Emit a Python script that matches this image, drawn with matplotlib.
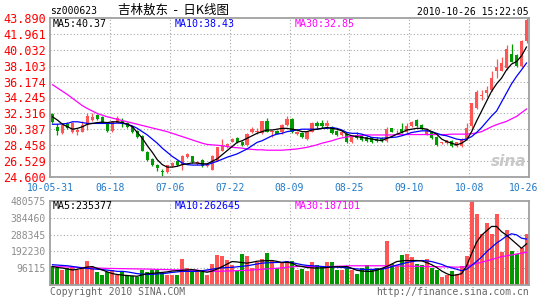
"""Daily candlestick chart (Sina style) for sz000623 with volume panel."""

import matplotlib
matplotlib.use("Agg")
import matplotlib.pyplot as plt
import numpy as np

plt.rcParams["font.family"] = ["DejaVu Sans Mono"]

W, H = 545, 300

RED = "#FF5555"
GREEN = "#009900"
GRID = "#A8A8A8"
FRAME = "#A0A0A0"
BLUE = "#0000FF"
MAGENTA = "#FF00FF"
DATE_BLUE = "#1E78C8"

# ---- data (96 trading days, 2010-05-31 .. 2010-10-26) ----
OPEN = [32.2, 30.7, 29.9, 31.0, 30.1, 30.0, 30.1, 30.9, 31.5, 32.15,
        31.9, 31.2, 30.2, 31.2, 31.35, 31.2, 30.75, 30.2, 29.6, 27.6,
        26.8, 26.1, 25.35, 25.2, 25.9, 26.6, 26.0, 27.0, 27.1, 26.2,
        26.7, 25.9, 25.5, 26.55, 27.8, 28.25, 28.9, 29.3, 28.9, 28.5,
        30.0, 30.0, 29.9, 31.35, 30.1, 30.2, 30.0, 30.9, 31.6, 29.8,
        29.9, 29.2, 30.1, 31.1, 31.2, 30.8, 30.7, 30.2, 29.7, 29.8,
        28.8, 29.7, 29.6, 29.45, 29.4, 29.2, 29.3, 28.95, 30.5, 30.05,
        30.4, 30.0, 30.8, 31.5, 30.9, 29.8, 30.0, 29.5, 28.75, 28.7,
        29.0, 28.4, 28.4, 29.2, 30.8, 33.0, 34.4, 34.8, 35.2, 37.4,
        37.5, 37.8, 39.5, 39.4, 38.1, 41.1]
HIGH = [32.4, 31.0, 31.0, 31.3, 31.3, 30.5, 31.4, 32.35, 32.4, 32.3,
        32.0, 31.3, 31.4, 32.0, 31.8, 31.3, 30.8, 30.3, 29.7, 27.7,
        26.9, 26.2, 25.6, 26.1, 26.4, 26.7, 27.3, 27.5, 27.2, 26.6,
        26.8, 26.3, 27.3, 28.3, 29.2, 28.7, 29.3, 29.4, 29.0, 29.9,
        30.7, 30.6, 31.4, 31.75, 30.3, 30.3, 31.0, 32.0, 31.8, 30.2,
        30.0, 30.1, 31.3, 31.4, 31.5, 31.5, 30.8, 30.3, 30.2, 29.9,
        29.6, 30.0, 29.8, 29.6, 29.5, 29.4, 29.5, 30.7, 30.6, 30.3,
        31.2, 31.2, 31.4, 31.6, 31.0, 30.5, 30.1, 29.6, 28.9, 29.1,
        29.1, 28.9, 29.3, 31.1, 33.6, 35.2, 35.1, 35.6, 37.4, 38.9,
        39.2, 40.6, 40.7, 39.5, 41.2, 43.89]
LOW = [31.2, 29.7, 29.8, 30.4, 29.9, 29.7, 30.0, 30.3, 31.4, 31.5,
       31.1, 30.0, 30.0, 31.1, 30.7, 30.6, 29.9, 29.3, 27.7, 26.5,
       25.9, 25.3, 24.6, 25.1, 25.8, 25.9, 25.4, 26.9, 26.3, 26.1,
       25.8, 25.8, 25.4, 26.5, 27.7, 28.1, 28.8, 28.7, 28.4, 28.4,
       29.9, 29.8, 29.8, 30.0, 29.4, 29.8, 29.8, 30.8, 29.9, 29.7,
       29.3, 29.1, 30.0, 30.6, 30.5, 30.7, 29.8, 29.6, 29.6, 28.7,
       28.7, 29.2, 29.0, 28.9, 28.7, 28.9, 28.9, 28.9, 30.0, 29.9,
       29.9, 29.9, 30.7, 30.7, 30.3, 29.7, 29.2, 28.4, 28.6, 28.6,
       28.3, 28.3, 28.3, 29.1, 30.6, 32.9, 33.9, 34.3, 35.0, 36.6,
       37.4, 37.6, 38.5, 38.0, 38.0, 40.8]
CLOSE = [31.3, 30.2, 30.9, 30.5, 31.1, 30.35, 30.85, 32.0, 31.9, 31.6,
         31.2, 30.2, 31.3, 31.7, 31.0, 30.7, 30.0, 29.4, 27.8, 26.7,
         26.0, 25.7, 25.25, 26.0, 26.3, 26.0, 27.1, 27.4, 26.4, 26.4,
         25.9, 26.1, 27.15, 28.2, 28.4, 28.6, 29.2, 28.8, 28.5, 29.8,
         30.4, 30.2, 31.35, 30.1, 30.2, 29.85, 30.9, 31.6, 30.0, 30.1,
         29.4, 30.0, 31.1, 30.8, 30.8, 31.2, 29.9, 29.7, 30.1, 28.8,
         29.5, 29.3, 29.1, 28.95, 28.8, 29.0, 29.0, 30.4, 30.1, 30.1,
         30.0, 30.8, 31.3, 30.8, 30.4, 30.4, 29.3, 28.45, 28.8, 29.05,
         28.4, 28.8, 29.2, 30.6, 33.6, 34.9, 34.6, 35.2, 36.6, 38.0,
         38.4, 40.15, 38.6, 38.1, 41.1, 43.6]

MA5 = [31.9, 31.5, 31.0, 30.7, 30.4, 30.5, 30.7, 31.0, 31.1, 31.2,
       31.25, 31.2, 31.3, 31.3, 31.2, 31.0, 30.7, 30.0, 29.3, 28.4,
       27.6, 26.7, 26.1, 25.8, 25.8, 25.9, 26.1, 26.2, 26.3, 26.3,
       26.2, 26.2, 26.5, 26.8, 27.3, 27.8, 28.3, 28.8, 29.0, 29.3,
       29.6, 29.9, 30.1, 30.3, 30.3, 30.4, 30.5, 30.5, 30.4, 30.3,
       30.1, 30.1, 30.3, 30.4, 30.5, 30.6, 30.5, 30.4, 30.2, 29.8,
       29.6, 29.5, 29.4, 29.3, 29.2, 29.1, 29.0, 29.3, 29.5, 29.8,
       30.0, 30.3, 30.4, 30.5, 30.5, 30.4, 30.1, 29.8, 29.2, 28.9,
       28.7, 28.5, 28.7, 29.1, 30.1, 31.4, 32.6, 33.8, 35.0, 35.9,
       36.6, 37.6, 38.3, 38.6, 39.3, 40.37]
MA10 = [31.0, 31.0, 31.05, 31.1, 31.3, 31.3, 31.2, 31.1, 31.1, 31.1,
        31.1, 31.1, 31.1, 31.15, 31.1, 31.0, 30.8, 30.5, 30.1, 29.7,
        29.2, 28.7, 28.1, 27.6, 27.1, 26.7, 26.3, 26.1, 26.05, 26.05,
        26.05, 26.1, 26.3, 26.5, 26.75, 27.0, 27.2, 27.4, 27.7, 28.0,
        28.4, 28.8, 29.0, 29.3, 29.6, 29.8, 29.9, 30.1, 30.2, 30.3,
        30.4, 30.4, 30.4, 30.4, 30.5, 30.5, 30.6, 30.5, 30.3, 30.0,
        29.9, 29.9, 29.8, 29.6, 29.4, 29.35, 29.3, 29.35, 29.4, 29.45,
        29.6, 29.8, 30.0, 30.1, 30.2, 30.2, 30.1, 29.9, 29.7, 29.6,
        29.4, 29.2, 29.1, 29.2, 29.5, 30.0, 30.6, 31.3, 32.0, 32.6,
        33.7, 34.8, 35.9, 36.8, 37.6, 38.43]
MA30 = [35.8, 35.4, 35.0, 34.6, 34.15, 33.7, 33.25, 32.9, 32.6, 32.3,
        32.1, 31.9, 31.75, 31.6, 31.45, 31.3, 31.15, 31.0, 30.85, 30.7,
        30.55, 30.4, 30.25, 30.1, 29.9, 29.7, 29.5, 29.3, 29.1, 28.9,
        28.7, 28.55, 28.5, 28.45, 28.4, 28.3, 28.2, 28.15, 28.1, 28.0,
        27.95, 27.9, 27.9, 27.85, 27.85, 27.85, 27.85, 27.9, 27.95, 28.0,
        28.1, 28.2, 28.35, 28.5, 28.7, 28.85, 29.0, 29.2, 29.35, 29.45,
        29.55, 29.6, 29.65, 29.7, 29.7, 29.7, 29.7, 29.7, 29.7, 29.75,
        29.75, 29.75, 29.75, 29.75, 29.75, 29.75, 29.75, 29.75, 29.75, 29.75,
        29.8, 29.8, 29.8, 29.8, 29.85, 29.95, 30.1, 30.4, 30.7, 30.95,
        31.15, 31.35, 31.65, 31.95, 32.4, 32.85]

VOLUME = [106000, 97000, 88000, 97000, 110000, 88000, 97000, 140000, 110000, 73000,
          60000, 73000, 84000, 60000, 73000, 60000, 54000, 47000, 84000, 73000,
          84000, 84000, 69000, 60000, 60000, 60000, 151000, 97000, 78000, 82000,
          73000, 60000, 121000, 172000, 166000, 144000, 116000, 78000, 177000, 165000,
          97000, 134000, 150000, 185000, 135000, 100000, 125000, 138000, 138000, 88000,
          93000, 78000, 129000, 116000, 106000, 129000, 129000, 84000, 88000, 103000,
          88000, 65000, 97000, 116000, 88000, 97000, 97000, 252000, 121000, 106000,
          172000, 177000, 159000, 121000, 112000, 149000, 97000, 88000, 47000, 60000,
          78000, 65000, 106000, 166000, 480575, 409000, 293000, 353000, 289000, 409000,
          190000, 317000, 196000, 177000, 213000, 293000]
VOL_MA5 = [106000, 100000, 97000, 92000, 86000, 90000, 97000, 103000, 105000, 95000,
           86000, 75000, 65000, 60000, 57000, 54000, 52000, 50000, 58000, 65000,
           67000, 69000, 72000, 75000, 80000, 82000, 84000, 86000, 88000, 84000,
           78000, 73000, 80000, 92000, 105000, 120000, 134000, 132000, 128000, 125000,
           130000, 136000, 138000, 139000, 140000, 135000, 128000, 130000, 125000, 110000,
           106000, 100000, 98000, 97000, 98000, 100000, 103000, 105000, 104000, 106000,
           95000, 84000, 80000, 78000, 78000, 85000, 95000, 106000, 120000, 134000,
           138000, 140000, 140000, 140000, 138000, 128000, 116000, 100000, 80000, 65000,
           54000, 58000, 65000, 110000, 180000, 245000, 285000, 310000, 335000, 335000,
           305000, 285000, 260000, 235000, 210000, 235377]
VOL_MA10 = [116000, 114000, 112000, 110000, 106000, 102000, 97000, 95000, 92000, 90000,
            88000, 85000, 82000, 78000, 78000, 75000, 70000, 65000, 62000, 60000,
            61000, 63000, 65000, 68000, 72000, 75000, 78000, 78000, 78000, 78000,
            82000, 86000, 91000, 95000, 98000, 100000, 101000, 104000, 107000, 110000,
            115000, 120000, 125000, 127000, 128000, 129000, 130000, 134000, 128000, 122000,
            116000, 112000, 110000, 108000, 106000, 104000, 103000, 102000, 101000, 98000,
            95000, 92000, 90000, 88000, 89000, 90000, 91000, 96000, 105000, 114000,
            121000, 128000, 134000, 138000, 140000, 138000, 134000, 126000, 118000, 106000,
            98000, 90000, 82000, 90000, 112000, 135000, 160000, 190000, 215000, 240000,
            259000, 280000, 293000, 287000, 268000, 262645]
VOL_MA30 = [106000, 105000, 104000, 103000, 102000, 101000, 100000, 99000, 98000, 97000,
            96000, 95000, 94500, 94000, 93500, 93000, 92500, 92000, 91500, 91000,
            90000, 89000, 88500, 88000, 87000, 86500, 86000, 85000, 84500, 84000,
            82000, 80000, 79000, 78000, 79000, 80000, 81000, 82000, 83000, 84000,
            86000, 88000, 90000, 92000, 94000, 96000, 98000, 101000, 104000, 106000,
            106000, 106000, 106000, 106000, 105000, 105000, 106000, 107000, 108000, 109000,
            110000, 110000, 110000, 110000, 110000, 110000, 110000, 110000, 109000, 109000,
            108000, 108000, 107000, 107000, 106000, 106000, 105000, 105000, 104000, 104000,
            103000, 102000, 103000, 105000, 115000, 123000, 130000, 138000, 146000, 154000,
            162000, 167000, 172000, 177000, 182000, 187101]

DATE_LABELS = ["10-05-31", "06-18", "07-06", "07-22", "08-09",
               "08-25", "09-10", "10-08", "10-26"]
DATE_POS = [-0.5, 11.5, 23.5, 35.5, 47.5, 59.5, 71.5, 83.5, 94.4]

PRICE_TICKS = [24.600, 26.529, 28.458, 30.387, 32.316, 34.245,
               36.174, 38.103, 40.032, 41.961, 43.890]
VOL_TICKS = [96115, 192230, 288345, 384460, 480575]


def style_frame(ax):
    for sp in ax.spines.values():
        sp.set_color(FRAME)
        sp.set_linewidth(1.3)
    ax.tick_params(length=0)


def main():
    o, h, l, c = map(np.asarray, (OPEN, HIGH, LOW, CLOSE))
    x = np.arange(len(c))
    colors = np.where(c >= o, RED, GREEN)

    fig = plt.figure(figsize=(W / 100, H / 100), dpi=100)
    ax = fig.add_axes([50 / W, 1 - 177 / H, 479 / W, 159 / H])
    axv = fig.add_axes([50 / W, 1 - 285 / H, 479 / W, 84 / H], sharex=ax)

    # dotted grid
    grid_kw = dict(color=GRID, linewidth=0.8, linestyle=(0, (1, 2)), zorder=0)
    for xp in DATE_POS[1:-1]:
        ax.axvline(xp, **grid_kw)
        axv.axvline(xp, **grid_kw)
    for yp in PRICE_TICKS[1:-1]:
        ax.axhline(yp, **grid_kw)
    for yp in VOL_TICKS[:-1]:
        axv.axhline(yp, **grid_kw)

    # candles + moving averages
    ax.vlines(x, l, h, colors=colors, linewidth=0.9, zorder=2)
    body = np.maximum(np.abs(c - o), 0.06)
    ax.bar(x, body, bottom=np.minimum(o, c), width=0.64, color=colors,
           linewidth=0, zorder=3)
    ax.plot(x, MA30, color=MAGENTA, linewidth=0.9, zorder=4)
    ax.plot(x, MA10, color=BLUE, linewidth=0.9, zorder=4)
    ax.plot(x, MA5, color="black", linewidth=0.9, zorder=5)

    ax.set_xlim(-0.5, len(c) - 0.5)
    ax.set_ylim(PRICE_TICKS[0], PRICE_TICKS[-1])
    ax.set_yticks(PRICE_TICKS)
    ax.set_yticklabels([f"{v:.3f}" for v in PRICE_TICKS], color="red", fontsize=8.5)
    ax.set_xticks(DATE_POS)
    ax.set_xticklabels(DATE_LABELS, color=DATE_BLUE, fontsize=7)
    ax.tick_params(axis="y", pad=3)
    ax.tick_params(axis="x", pad=4)
    style_frame(ax)

    ax.text(0.006, 0.962, "MA5:40.37", transform=ax.transAxes, fontsize=7.2,
            va="center", color="black")
    ax.text(0.261, 0.962, "MA10:38.43", transform=ax.transAxes, fontsize=7.2,
            va="center", color=BLUE)
    ax.text(0.511, 0.962, "MA30:32.85", transform=ax.transAxes, fontsize=7.2,
            va="center", color=MAGENTA)
    ax.text(0.995, 0.1, "sina", transform=ax.transAxes, fontsize=11,
            fontstyle="italic", fontweight="bold", color="#C8C8C8",
            ha="right", va="center", family="DejaVu Sans")

    # volume panel
    axv.bar(x, VOLUME, width=0.8, color=colors, linewidth=0, zorder=2)
    axv.plot(x, VOL_MA30, color=MAGENTA, linewidth=0.9, zorder=4)
    axv.plot(x, VOL_MA10, color=BLUE, linewidth=0.9, zorder=4)
    axv.plot(x, VOL_MA5, color="black", linewidth=0.9, zorder=5)
    axv.set_ylim(0, VOL_TICKS[-1])
    axv.set_yticks(VOL_TICKS)
    axv.set_yticklabels([str(v) for v in VOL_TICKS], color="#8C8C8C", fontsize=7)
    axv.tick_params(axis="y", pad=3)
    axv.tick_params(axis="x", labelbottom=False)
    style_frame(axv)

    axv.text(0.006, 0.94, "MA5:235377", transform=axv.transAxes, fontsize=7.2,
             va="center", color="black")
    axv.text(0.261, 0.94, "MA10:262645", transform=axv.transAxes, fontsize=7.2,
             va="center", color=BLUE)
    axv.text(0.511, 0.94, "MA30:187101", transform=axv.transAxes, fontsize=7.2,
             va="center", color=MAGENTA)

    # header / footer
    fig.text(50 / W, 1 - 11 / H, "sz000623", fontsize=7, va="center")
    fig.text(118 / W, 1 - 10 / H, "吉林敖东  -  日K线图", fontsize=9, va="center",
             family=["Noto Sans CJK SC", "DejaVu Sans"])
    fig.text(529 / W, 1 - 12 / H, "2010-10-26 15:22:05", fontsize=7,
             va="center", ha="right")
    fig.text(50 / W, 1 - 292 / H, "Copyright 2010 SINA.COM", fontsize=7,
             va="center", color="#666666")
    fig.text(529 / W, 1 - 292 / H, "http://finance.sina.com.cn", fontsize=7,
             va="center", ha="right", color="#666666")

    fig.savefig("out.png", dpi=100, facecolor="white")
    plt.close(fig)


if __name__ == "__main__":
    main()
